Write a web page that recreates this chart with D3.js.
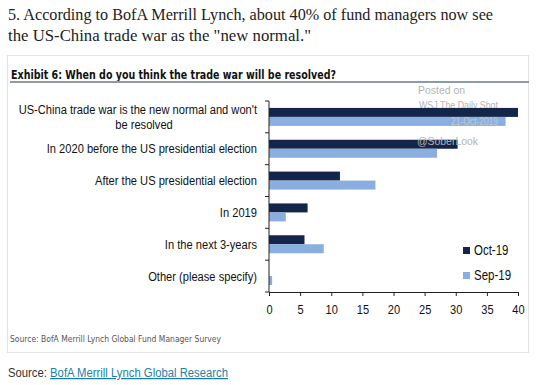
<!DOCTYPE html>
<html><head><meta charset="utf-8">
<script src="https://cdn.jsdelivr.net/npm/d3@7"></script>
<style>html,body{margin:0;padding:0;background:#fff;}svg{display:block;}</style>
</head><body>
<script>
const categories = [
  "US-China trade war is the new normal and won't be resolved",
  "In 2020 before the US presidential election",
  "After the US presidential election",
  "In 2019",
  "In the next 3-years",
  "Other (please specify)"
];
const series = ["Oct-19", "Sep-19"];
const oct19 = [40.0, 30.3, 11.4, 6.2, 5.7, 0];
const sep19 = [38.0, 27.0, 17.1, 2.7, 8.8, 0.5];
const xTicks = [0, 5, 10, 15, 20, 25, 30, 35, 40];
const colors = ["#13264a", "#8aaee0"];

const W = 536, H = 385;
const svg = d3.select("body").append("svg").attr("width", W).attr("height", H);

// compress a text horizontally by factor k (narrow look of the reference)
function squeeze(sel, k) {
  sel.each(function () {
    const n = this.getComputedTextLength();
    d3.select(this).attr("textLength", n * k).attr("lengthAdjust", "spacingAndGlyphs");
  });
  return sel;
}

// Headline
const head = svg.append("g").attr("font-family", "'Liberation Serif', serif").attr("fill", "#222").attr("font-size", 17);
head.append("text").attr("x", 8).attr("y", 20).attr("textLength", 485).attr("lengthAdjust", "spacingAndGlyphs")
  .text("5. According to BofA Merrill Lynch, about 40% of fund managers now see");
head.append("text").attr("x", 8).attr("y", 41).attr("textLength", 303).attr("lengthAdjust", "spacingAndGlyphs")
  .text('the US-China trade war as the "new normal."');

// Exhibit box
svg.append("rect").attr("x", 7.5).attr("y", 55.5).attr("width", 521).attr("height", 297)
  .attr("fill", "#fff").attr("stroke", "#e3e3e3");
svg.append("text").attr("x", 11).attr("y", 79).attr("font-family", "'DejaVu Sans Condensed', 'DejaVu Sans', sans-serif")
  .attr("font-weight", "bold").attr("font-size", 13).attr("fill", "#111")
  .attr("textLength", 325).attr("lengthAdjust", "spacingAndGlyphs")
  .text("Exhibit 6: When do you think the trade war will be resolved?");
svg.append("line").attr("x1", 10).attr("x2", 529).attr("y1", 82).attr("y2", 82).attr("stroke", "#8c9ba6").attr("stroke-width", 2);

// Scales
const x = d3.scaleLinear().domain([0, 40]).range([269, 518]);
const y0 = d3.scaleBand().domain(categories).range([101, 292]).paddingInner(0).paddingOuter(0);
const y1 = d3.scaleBand().domain(series).range([0, y0.bandwidth()]).paddingInner(0).paddingOuter(0.77);

const font = "'Liberation Sans', Arial, sans-serif";

// Watermark
const wm = svg.append("g").attr("font-family", font).attr("fill", "#b4b4b4").attr("font-size", 10.5);
wm.append("text").attr("x", 418).attr("y", 94).attr("textLength", 47).attr("lengthAdjust", "spacingAndGlyphs").text("Posted on");
wm.append("text").attr("x", 419).attr("y", 109).attr("textLength", 79).attr("lengthAdjust", "spacingAndGlyphs").text("WSJ The Daily Shot");

// Bars
const data = categories.map((c, i) => ({ c, vals: [oct19[i], sep19[i]] }));
const g = svg.append("g");
data.forEach(d => {
  d.vals.forEach((v, j) => {
    g.append("rect")
      .attr("x", x(0))
      .attr("y", y0(d.c) + y1(series[j]))
      .attr("width", x(v) - x(0))
      .attr("height", y1.bandwidth())
      .attr("fill", colors[j]);
  });
});

const wm2 = svg.append("g").attr("font-family", font).attr("fill", "#c2c8d2").attr("font-size", 10.5);
wm2.append("text").attr("x", 451).attr("y", 125).attr("textLength", 47).attr("lengthAdjust", "spacingAndGlyphs").text("21-Oct-2019");
wm2.append("text").attr("x", 417).attr("y", 145).attr("font-size", 11.5).attr("fill", "#b4b4b4")
  .attr("textLength", 61).attr("lengthAdjust", "spacingAndGlyphs").text("@SoberLook");

// Y axis
const yAxis = d3.axisLeft(y0).tickSize(0).tickFormat("");
const ya = svg.append("g").attr("transform", `translate(${x(0)},0)`).call(yAxis);
ya.select(".domain").attr("stroke", "#222").attr("d", `M0,${y0.range()[0]}V${y0.range()[1]}`);
const bounds = categories.map(c => y0(c)).concat([y0.range()[1]]);
ya.selectAll(".bt").data(bounds).enter().append("line").attr("class", "bt")
  .attr("x1", -4).attr("x2", 0).attr("y1", d => d).attr("y2", d => d).attr("stroke", "#222");

// Category labels
const lab = svg.append("g").attr("font-family", font).attr("font-size", 12.5).attr("fill", "#111");
categories.forEach((c, i) => {
  const cy = y0(c) + y0.bandwidth() / 2;
  if (i === 0) {
    squeeze(lab.append("text").attr("x", 257).attr("y", cy - 3).attr("text-anchor", "end").text("US-China trade war is the new normal and won't"), 0.89);
    squeeze(lab.append("text").attr("x", 144).attr("y", cy + 12).attr("text-anchor", "middle").text("be resolved"), 0.89);
  } else {
    squeeze(lab.append("text").attr("x", 257).attr("y", cy + 4.5).attr("text-anchor", "end").text(c), 0.89);
  }
});

// X axis
const xAxis = d3.axisBottom(x).tickValues(xTicks).tickSize(4).tickSizeOuter(0).tickPadding(9);
const xa = svg.append("g").attr("transform", `translate(0,${y0.range()[1]})`).call(xAxis);
xa.select(".domain").attr("stroke", "#222");
xa.selectAll(".tick line").attr("stroke", "#222");
xa.selectAll(".tick text").attr("font-family", font).attr("font-size", 13).attr("fill", "#111");
squeeze(xa.selectAll(".tick text"), 0.85);

// Legend
const leg = svg.append("g").attr("font-family", font).attr("font-size", 14).attr("fill", "#111");
series.forEach((s, j) => {
  const ly = 247 + j * 25;
  leg.append("rect").attr("x", 463).attr("y", ly).attr("width", 7).attr("height", 7).attr("fill", colors[j]);
  squeeze(leg.append("text").attr("x", 474).attr("y", ly + 8).text(s), 0.82);
});

// Inner source
svg.append("text").attr("x", 10).attr("y", 342).attr("font-family", "'DejaVu Sans Condensed', 'DejaVu Sans', sans-serif")
  .attr("font-size", 8.5).attr("fill", "#555").attr("textLength", 211).attr("lengthAdjust", "spacingAndGlyphs")
  .text("Source:  BofA Merrill Lynch Global Fund Manager Survey");

// Bottom source
const bs = svg.append("text").attr("x", 8).attr("y", 377).attr("font-family", font).attr("font-size", 12.5)
  .attr("textLength", 220).attr("lengthAdjust", "spacingAndGlyphs");
bs.append("tspan").attr("fill", "#333").text("Source: ");
bs.append("tspan").attr("fill", "#1c7fa6").attr("text-decoration", "underline").text("BofA Merrill Lynch Global Research");
</script>
</body></html>
